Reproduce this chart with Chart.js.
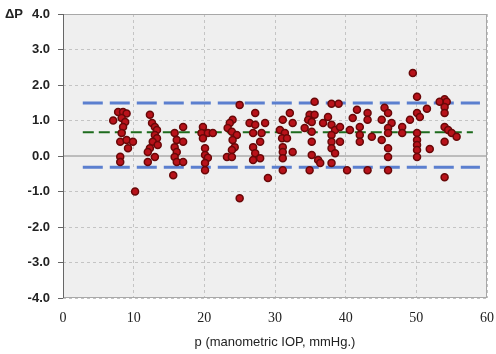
<!DOCTYPE html>
<html>
<head>
<meta charset="utf-8">
<script src="https://cdn.jsdelivr.net/npm/chart.js@4/dist/chart.umd.min.js"></script>
<style>
  html, body { margin: 0; padding: 0; background: #fff; }
  #wrap { width: 496px; height: 354px; }
</style>
</head>
<body>
<div id="wrap"><canvas id="chart" width="496" height="354"></canvas></div>
<script>
// manometric IOP (x) and difference ΔP (y)
const pressure = [
  7.8, 8.5, 9.0, 7.1, 8.3, 8.8, 8.5, 8.3, 8.1, 9.0, 9.9, 9.2, 8.1, 8.1, 10.2,
  12.3, 12.6, 13.0, 13.3, 13.0, 13.3, 12.7, 13.4, 12.3, 12.0, 13.0, 12.0,
  17.0, 15.8, 16.1, 17.0, 15.8, 16.1, 15.8, 16.1, 17.0, 15.6,
  19.8, 19.6, 20.5, 21.2, 19.8, 20.1, 20.1, 20.5, 20.1, 20.1,
  25.0, 24.0, 23.6, 23.3, 23.9, 24.6, 24.0, 24.3, 23.9, 23.2, 23.9, 25.0,
  27.2, 26.4, 27.2, 28.6, 26.9, 28.1, 27.9, 26.9, 27.2, 26.9, 27.9, 29.0,
  32.1, 31.1, 32.5, 30.7, 31.4, 31.0, 31.7, 31.1, 31.1, 32.5, 31.1, 31.1,
  35.6, 34.9, 35.6, 34.7, 35.2, 34.2, 35.2, 35.2, 35.2, 36.1, 34.9,
  38.0, 39.0, 37.5, 36.8, 38.0, 38.5, 39.2, 38.0, 39.2, 38.0, 38.0, 38.5, 38.0, 36.4, 40.2,
  41.6, 43.1, 41.0, 43.1, 40.6, 42.0, 42.0, 42.0, 43.7, 43.1,
  45.5, 46.0, 45.1, 46.5, 46.0, 46.0, 45.1, 46.0, 46.0, 46.0, 48.0, 48.0, 49.1,
  49.5, 50.1, 50.1, 50.5, 51.5, 50.1, 50.1, 50.1, 50.1, 50.1, 51.9,
  54.0, 53.3, 54.3, 54.0, 54.0, 54.0, 54.5, 55.0, 55.7, 54.0, 54.0
];
const deltaP = [
  1.24, 1.24, 1.2, 1.0, 1.07, 0.96, 0.82, 0.65, 0.4, 0.45, 0.4, 0.22, -0.02, -0.17, -1.0,
  1.16, 0.93, 0.82, 0.73, 0.59, 0.5, 0.4, 0.31, 0.22, 0.11, -0.03, -0.17,
  0.82, 0.65, 0.45, 0.4, 0.25, 0.11, -0.03, -0.17, -0.17, -0.54,
  0.82, 0.65, 0.65, 0.65, 0.5, 0.22, 0.03, -0.05, -0.2, -0.4,
  1.44, 1.02, 0.93, 0.79, 0.68, 0.59, 0.45, 0.25, 0.17, -0.03, -0.03, -1.19,
  1.21, 0.93, 0.88, 0.93, 0.65, 0.65, 0.4, 0.25, 0.08, -0.11, -0.06, -0.62,
  1.21, 1.02, 0.93, 0.73, 0.65, 0.5, 0.5, 0.25, 0.11, 0.11, -0.06, -0.4,
  1.53, 1.16, 1.16, 1.02, 0.96, 0.79, 0.68, 0.4, 0.03, -0.11, -0.4,
  1.47, 1.47, 1.1, 0.93, 0.88, 0.73, 0.82, 0.59, 0.4, 0.4, 0.22, 0.08, -0.2, -0.2, -0.4,
  1.3, 1.21, 1.07, 1.02, 0.73, 0.82, 0.59, 0.4, 0.54, -0.4,
  1.36, 1.21, 1.02, 0.93, 0.79, 0.65, 0.45, 0.22, -0.03, -0.4, 0.82, 0.65, 1.02,
  2.34, 1.67, 1.21, 1.1, 1.33, 0.65, 0.45, 0.31, 0.17, -0.03, 0.2,
  1.6, 1.53, 1.53, 1.38, 1.21, 0.82, 0.73, 0.65, 0.54, 0.4, -0.6
];

// reference lines: mean difference and limits of agreement
const meanDiff = 0.67;
const upperLimit = 1.49;
const lowerLimit = -0.32;
const limitSpan = [2.8, 59];
const meanSpan = [2.8, 58];

const xTicks = [0, 10, 20, 30, 40, 50, 60];
const yTicks = [4, 3, 2, 1, 0, -1, -2, -3, -4];

const points = pressure.map((p, i) => ({ x: p, y: deltaP[i] }));
const hline = (y, span) => span.map(x => ({ x, y }));

// grey plot background, frame and the ΔP label
const framePlugin = {
  id: 'frame',
  beforeDraw(chart) {
    const { ctx, chartArea: a } = chart;
    ctx.save();
    ctx.fillStyle = '#efefef';
    ctx.fillRect(a.left, a.top, a.right - a.left, a.bottom - a.top);
    ctx.restore();
  },
  afterDraw(chart) {
    const { ctx, chartArea: a } = chart;
    ctx.save();
    ctx.strokeStyle = '#a8a8a8';
    ctx.lineWidth = 1;
    ctx.strokeRect(a.left + 0.5, a.top + 0.5, a.right - a.left - 1, a.bottom - a.top - 1);
    ctx.strokeStyle = '#666';
    ctx.beginPath();
    ctx.moveTo(a.left + 0.5, a.top);
    ctx.lineTo(a.left + 0.5, a.bottom);
    ctx.stroke();
    ctx.fillStyle = '#222';
    ctx.font = 'bold 13px "Liberation Sans", Arial, sans-serif';
    ctx.textBaseline = 'middle';
    ctx.textAlign = 'left';
    ctx.fillText('ΔP', 5, a.top);
    ctx.restore();
  }
};

new Chart(document.getElementById('chart'), {
  type: 'scatter',
  data: {
    datasets: [
      {
        data: points,
        backgroundColor: '#b8121a',
        borderColor: '#680808',
        borderWidth: 1.5,
        pointRadius: 3.5,
        order: 0
      },
      {
        data: hline(0, [0, 60]),
        showLine: true, pointRadius: 0,
        borderColor: '#8a8a8a', borderWidth: 1,
        order: 5
      },
      {
        data: hline(upperLimit, limitSpan),
        showLine: true, pointRadius: 0,
        borderColor: '#5b7fcf', borderWidth: 3, borderDash: [20, 7],
        order: 4
      },
      {
        data: hline(lowerLimit, limitSpan),
        showLine: true, pointRadius: 0,
        borderColor: '#5b7fcf', borderWidth: 3, borderDash: [20, 7],
        order: 4
      },
      {
        data: hline(meanDiff, meanSpan),
        showLine: true, pointRadius: 0,
        borderColor: '#1d6b1d', borderWidth: 2, borderDash: [11, 5],
        order: 3
      }
    ]
  },
  options: {
    responsive: false,
    animation: false,
    layout: { padding: { left: 0, right: 9, top: 14, bottom: 0 } },
    plugins: { legend: { display: false }, tooltip: { enabled: false } },
    scales: {
      x: {
        type: 'linear', min: 0, max: 60,
        afterBuildTicks: s => { s.ticks = xTicks.map(v => ({ value: v })); },
        afterFit: s => { s.height = 56; s.paddingLeft = 0; s.paddingRight = 0; },
        grid: { color: '#c4c4c4', drawTicks: false },
        border: { display: false, dash: [3, 3] },
        ticks: {
          padding: 12,
          color: '#222',
          font: { family: '"Liberation Serif", "Times New Roman", serif', size: 14 }
        },
        title: {
          display: true,
          text: 'p (manometric IOP, mmHg.)',
          color: '#222',
          padding: { top: 4, bottom: 4 },
          font: { family: '"Liberation Sans", Arial, sans-serif', size: 13 }
        }
      },
      y: {
        type: 'linear', min: -4, max: 4,
        afterBuildTicks: s => { s.ticks = yTicks.map(v => ({ value: v })); },
        afterFit: s => { s.width = 63; s.paddingTop = 0; s.paddingBottom = 0; },
        grid: {
          color: c => (c.tick && c.tick.value === 0) ? 'rgba(0,0,0,0)' : '#c4c4c4',
          tickColor: '#666',
          tickLength: 5
        },
        border: { display: false, dash: [3, 3] },
        ticks: {
          padding: 8,
          color: '#222',
          callback: v => v.toFixed(1),
          font: { family: '"Liberation Sans", Arial, sans-serif', size: 13, weight: 'bold' }
        }
      }
    }
  },
  plugins: [framePlugin]
});
</script>
</body>
</html>
